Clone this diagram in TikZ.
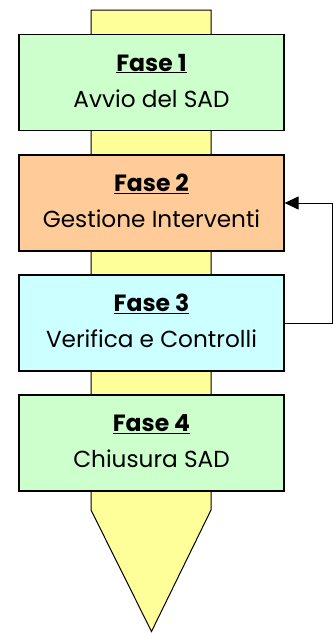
\documentclass[tikz,border=0pt]{standalone}
\usepackage{fontspec}
\setmainfont{Poppins}
\usetikzlibrary{arrows.meta}
\definecolor{boxgreen}{HTML}{CCFFCC}
\definecolor{boxorange}{HTML}{FFCC99}
\definecolor{boxcyan}{HTML}{CCFFFF}
\definecolor{shaftyellow}{HTML}{FFFF99}
\tikzset{
  phase/.style={draw=black, line width=1.2pt, minimum width=265pt, minimum height=96pt, inner sep=0pt},
  ttl/.style={anchor=base, inner sep=0pt, font=\fontsize{23.5}{28}\selectfont\bfseries},
  sub/.style={anchor=base, inner sep=0pt, font=\fontsize{23.2}{28}\selectfont},
}
\begin{document}
\begin{tikzpicture}[x=1pt,y=-1pt]
\useasboundingbox (0,0) rectangle (333,633);
% shaft with arrow point
\draw[fill=shaftyellow, line width=1pt, line join=miter] (91,10) -- (211,10) -- (211,510) -- (151.5,631.5) -- (91,510) -- cycle;
\node[phase, fill=boxgreen] (b1) at (151.5,82.5) {};
\node[phase, fill=boxorange] (b2) at (151.5,203) {};
\node[phase, fill=boxcyan] (b3) at (151.5,323) {};
\node[phase, fill=boxgreen] (b4) at (151.5,443) {};
\node[ttl] (t1) at ([yshift=11.5pt]b1.center) {\underline{Fase 1}};
\node[sub] (s1) at ([yshift=-24.5pt]b1.center) {Avvio del SAD};
\node[ttl] (t2) at ([yshift=11.5pt]b2.center) {\underline{Fase 2}};
\node[sub] (s2) at ([yshift=-24.5pt]b2.center) {Gestione Interventi};
\node[ttl] (t3) at ([yshift=11.5pt]b3.center) {\underline{Fase 3}};
\node[sub] (s3) at ([yshift=-24.5pt]b3.center) {Verifica e Controlli};
\node[ttl] (t4) at ([yshift=11.5pt]b4.center) {\underline{Fase 4}};
\node[sub] (s4) at ([yshift=-24.5pt]b4.center) {Chiusura SAD};
\draw[line width=1pt, -{Triangle[length=14pt,width=13pt]}] (b3.east) -- ++(47.5,0) |- (b2.east);
\end{tikzpicture}
\end{document}
